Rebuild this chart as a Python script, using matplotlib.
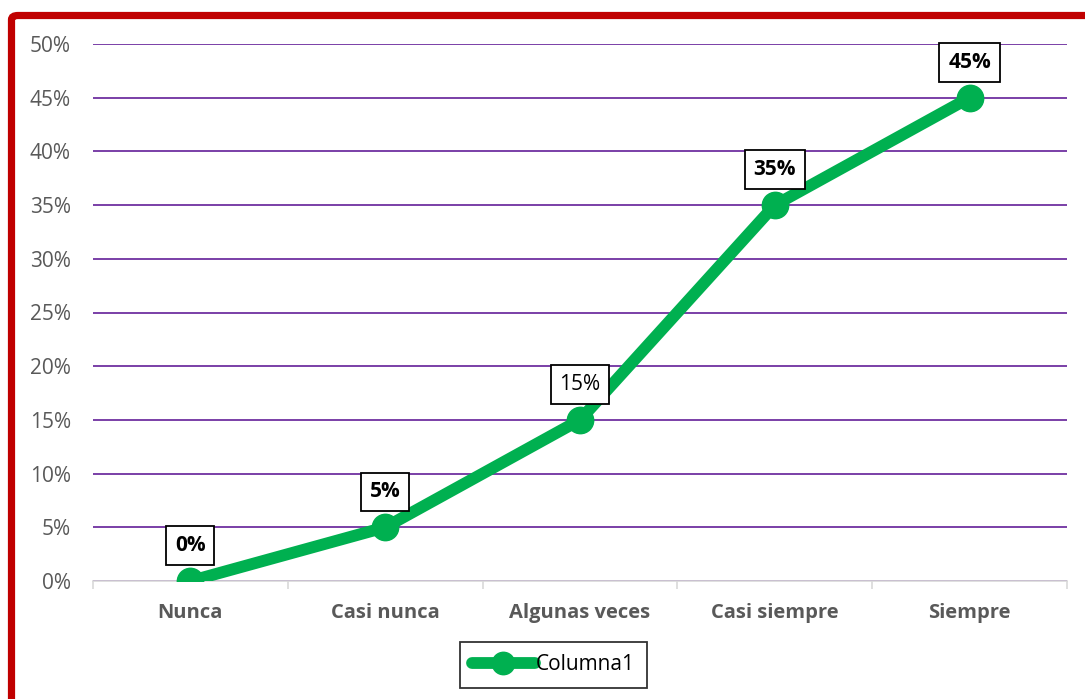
import matplotlib
matplotlib.use("Agg")
import matplotlib.pyplot as plt
from matplotlib.patches import FancyBboxPatch
from matplotlib.ticker import PercentFormatter

categories = ["Nunca", "Casi nunca", "Algunas veces", "Casi siempre", "Siempre"]
values = [0, 5, 15, 35, 45]
label_bold = [True, True, False, True, True]
series_name = "Columna1"
yticks = [0, 5, 10, 15, 20, 25, 30, 35, 40, 45, 50]

GREEN = "#00B050"
PURPLE = "#7030A0"
RED = "#C00000"
GRAY = "#595959"

plt.rcParams["font.family"] = ["Open Sans", "DejaVu Sans"]

W, H = 1085, 699
fig = plt.figure(figsize=(W / 100, H / 100), dpi=100)

# outer red frame running off the right and bottom edges
frame = FancyBboxPatch((11.5 / W, -0.05), 1.1, 1 - 15.5 / H + 0.05,
                       boxstyle="round,pad=0,rounding_size=0.006",
                       transform=fig.transFigure, fill=False,
                       edgecolor=RED, linewidth=5.2, zorder=0)
fig.patches.append(frame)

ax = fig.add_axes([93 / W, 1 - 581 / H, (1067 - 93) / W, (581 - 44) / H])
x = list(range(len(categories)))
ax.plot(x, values, color=GREEN, linewidth=8.5, marker="o", markersize=19,
        solid_capstyle="round", zorder=3, label=series_name)

ax.set_xlim(-0.5, len(categories) - 0.5)
ax.set_ylim(0, 50)
ax.set_yticks(yticks)
ax.yaxis.set_major_formatter(PercentFormatter(decimals=0))
ax.grid(axis="y", color=PURPLE, linewidth=1.3)
ax.set_axisbelow(True)
for s in ["top", "right", "left"]:
    ax.spines[s].set_visible(False)
ax.spines["bottom"].set_color("#D9D9D9")
ax.spines["bottom"].set_linewidth(1.2)
ax.spines["bottom"].set_zorder(2.5)

ax.set_xticks(x)
ax.set_xticklabels(categories, fontsize=14.5, fontweight="bold", color=GRAY)
ax.set_xticks([i - 0.5 for i in range(len(categories) + 1)], minor=True)
ax.tick_params(axis="x", which="major", length=0, pad=16)
ax.tick_params(axis="x", which="minor", length=6, color="#D9D9D9", width=1.2)
ax.tick_params(axis="y", length=0, labelsize=15, labelcolor=GRAY, pad=16)

for xi, v, b in zip(x, values, label_bold):
    ax.annotate(f"{v}%", (xi, v), xytext=(0, 25.5), textcoords="offset points",
                ha="center", va="center", fontsize=15,
                fontweight="bold" if b else "normal", color="black",
                bbox=dict(boxstyle="square,pad=0.42", facecolor="white",
                          edgecolor="black", linewidth=1.3), zorder=5)

leg = ax.legend(loc="center", bbox_to_anchor=((553.5 - 93) / (1067 - 93), -(665 - 581) / (581 - 44)),
                frameon=True, fancybox=False, fontsize=15, handlelength=3.0,
                handletextpad=0.05, borderpad=0.6, borderaxespad=0, markerscale=0.85)
leg.get_frame().set_edgecolor("black")
leg.get_frame().set_linewidth(1.3)

fig.savefig("out.png", dpi=100)
